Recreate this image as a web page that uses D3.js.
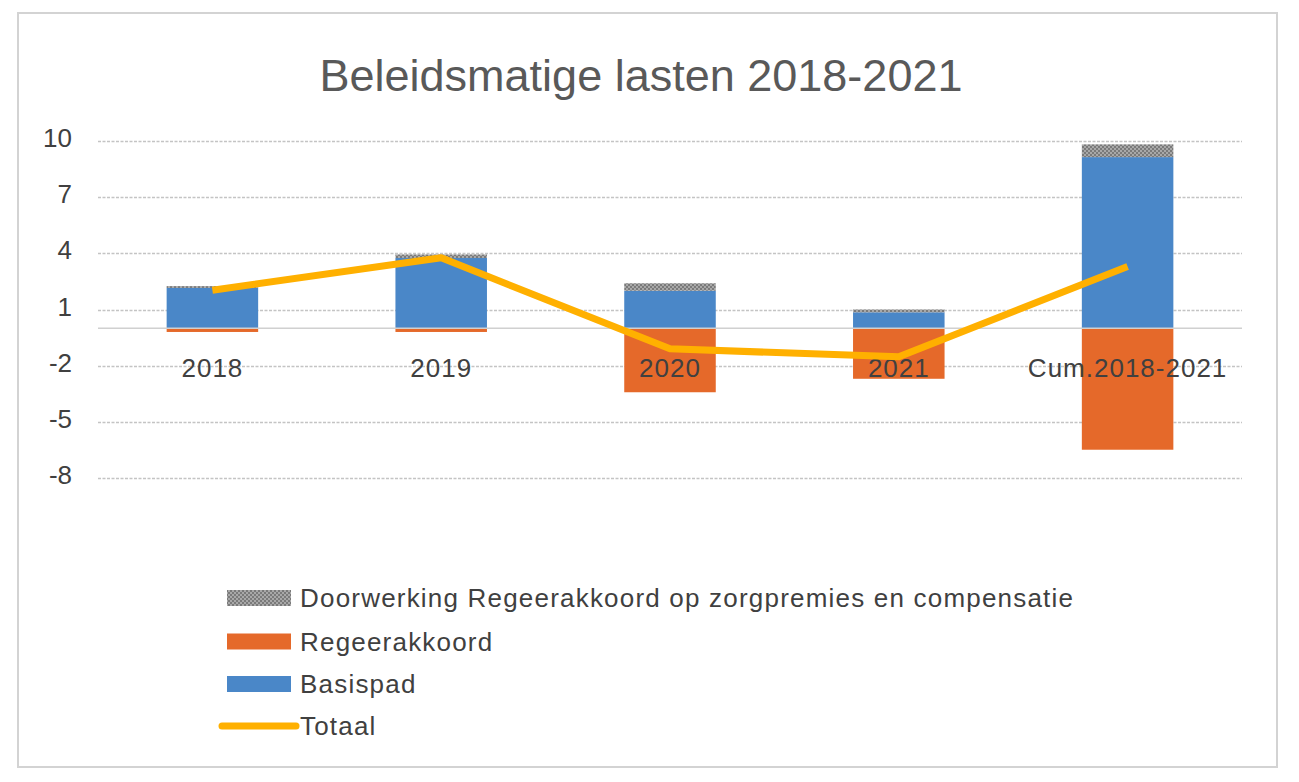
<!DOCTYPE html>
<html><head><meta charset="utf-8">
<script src="https://cdn.jsdelivr.net/npm/d3@7"></script>
<style>html,body{margin:0;padding:0;background:#fff;} svg{display:block;}</style>
</head><body>
<script>
const categories = ["2018","2019","2020","2021","Cum.2018-2021"];
const basispad = [2.15, 3.75, 2.0, 0.85, 9.14];
const regeerakkoord = [-0.2, -0.2, -3.42, -2.7, -6.49];
const doorwerking = [0.1, 0.19, 0.4, 0.15, 0.68];
const totaal = [2.03, 3.76, -1.1, -1.53, 3.3];
const yTicks = [10, 7, 4, 1, -2, -5, -8];
const title = "Beleidsmatige lasten 2018-2021";
const legendLabels = ["Doorwerking Regeerakkoord op zorgpremies en compensatie", "Regeerakkoord", "Basispad", "Totaal"];

const W = 1299, H = 782;
const FONT = "'Liberation Sans', Arial, sans-serif";
const colBlue = "#4a87c8", colOrange = "#e5692a", colLine = "#ffb000", txt = "#404040";

const svg = d3.select("body").append("svg").attr("width", W).attr("height", H);
const defs = svg.append("defs");
const pat = defs.append("pattern").attr("id","dots").attr("patternUnits","userSpaceOnUse").attr("width",4).attr("height",4);
pat.append("rect").attr("width",4).attr("height",4).attr("fill","#a8a8a8");
pat.append("rect").attr("width",2).attr("height",2).attr("fill","#7a7a7a");
pat.append("rect").attr("x",2).attr("y",2).attr("width",2).attr("height",2).attr("fill","#7a7a7a");

svg.append("rect").attr("x",0).attr("y",0).attr("width",W).attr("height",H).attr("fill","#fff");
svg.append("rect").attr("x",18).attr("y",13).attr("width",1259).attr("height",754)
  .attr("fill","none").attr("stroke","#d3d3d3").attr("stroke-width",2);

const x = d3.scaleBand().domain(categories).range([98,1242]).paddingInner(0.6).paddingOuter(0.3);
const y = d3.scaleLinear().domain([-8,10]).range([478,141]);

// title
svg.append("text").attr("x",641).attr("y",91).attr("text-anchor","middle")
  .attr("font-family",FONT).attr("font-size",45).attr("fill","#595959").text(title);

// gridlines
svg.append("g").selectAll("line").data(yTicks).join("line")
  .attr("x1",98).attr("x2",1242).attr("y1",d=>Math.round(y(d))+0.5).attr("y2",d=>Math.round(y(d))+0.5)
  .attr("stroke","#c4c4c4").attr("stroke-width",1.5).attr("stroke-dasharray","3,1.5");

// y labels
svg.append("g").selectAll("text").data(yTicks).join("text")
  .attr("x",72).attr("y",d=>y(d)+6).attr("text-anchor","end")
  .attr("font-family",FONT).attr("font-size",26).attr("fill",txt).text(d=>d);

// bars
const bars = svg.append("g");
bars.selectAll(".b").data(categories).join("rect").attr("class","b")
  .attr("x",d=>x(d)).attr("width",x.bandwidth())
  .attr("y",(d,i)=>y(basispad[i])).attr("height",(d,i)=>y(0)-y(basispad[i]))
  .attr("fill",colBlue);
bars.selectAll(".g").data(categories).join("rect").attr("class","g")
  .attr("x",d=>x(d)).attr("width",x.bandwidth())
  .attr("y",(d,i)=>y(basispad[i]+doorwerking[i])).attr("height",(d,i)=>y(basispad[i])-y(basispad[i]+doorwerking[i]))
  .attr("fill","url(#dots)");
bars.selectAll(".o").data(categories).join("rect").attr("class","o")
  .attr("x",d=>x(d)).attr("width",x.bandwidth())
  .attr("y",y(0)).attr("height",(d,i)=>y(regeerakkoord[i])-y(0))
  .attr("fill",colOrange);

// zero axis line
svg.append("line").attr("x1",98).attr("x2",1242).attr("y1",y(0)).attr("y2",y(0))
  .attr("stroke","#d0d0d0").attr("stroke-width",1.5);

// category labels
svg.append("g").selectAll("text").data(categories).join("text")
  .attr("x",d=>x(d)+x.bandwidth()/2).attr("y",377).attr("text-anchor","middle")
  .attr("font-family",FONT).attr("font-size",26).attr("letter-spacing",1).attr("fill",txt).text(d=>d);

// line
const line = d3.line().x((d,i)=>x(categories[i])+x.bandwidth()/2).y(d=>y(d));
svg.append("path").datum(totaal).attr("d",line).attr("fill","none")
  .attr("stroke",colLine).attr("stroke-width",7).attr("stroke-linejoin","round");

// legend
const legY = [598, 641.5, 684, 726];
const lg = svg.append("g");
const fills = ["url(#dots)", colOrange, colBlue];
fills.forEach((f,i)=>{
  lg.append("rect").attr("x",227).attr("y",legY[i]-8).attr("width",64).attr("height",16).attr("fill",f);
});
lg.append("line").attr("x1",222).attr("x2",296).attr("y1",legY[3]).attr("y2",legY[3])
  .attr("stroke",colLine).attr("stroke-width",7).attr("stroke-linecap","round");
lg.selectAll("text").data(legendLabels).join("text")
  .attr("x",300).attr("y",(d,i)=>legY[i]+9)
  .attr("font-family",FONT).attr("font-size",26).attr("letter-spacing",1.2).attr("fill",txt).text(d=>d);
</script>
</body></html>
